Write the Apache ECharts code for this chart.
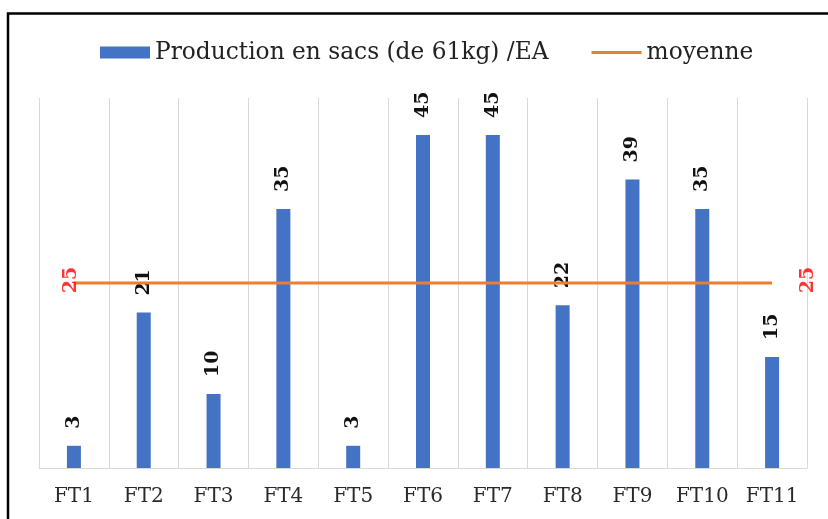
<!DOCTYPE html>
<html>
<head>
<meta charset="utf-8">
<script src="https://cdn.jsdelivr.net/npm/echarts@6/dist/echarts.min.js"></script>
<style>
html,body{margin:0;padding:0;background:#fff;}
#c{width:828px;height:519px;}
</style>
</head>
<body>
<div id="c"></div>
<script>
const categories = ['FT1','FT2','FT3','FT4','FT5','FT6','FT7','FT8','FT9','FT10','FT11'];
const production = [3,21,10,35,3,45,45,22,39,35,15];
const moyenne = [25,25,25,25,25,25,25,25,25,25,25];
const productionName = 'Production en sacs (de 61kg) /EA';
const moyenneName = 'moyenne';

const serif = '"DejaVu Serif", "Liberation Serif", serif';
const chart = echarts.init(document.getElementById('c'), null, {renderer:'canvas'});
chart.setOption({
  animation: false,
  backgroundColor: '#fff',
  graphic: [{
    type: 'rect', silent: true, z: 100,
    shape: {x: 8, y: 13.5, width: 840, height: 530},
    style: {fill: 'none', stroke: '#000', lineWidth: 2.5}
  }],
  legend: {
    data: [
      {name: productionName, icon: 'rect'},
      {name: moyenneName, icon: 'path://M0,0L50,0L50,3L0,3Z'}
    ],
    left: 95, top: 36,
    itemWidth: 50, itemHeight: 12, itemGap: 43,
    textStyle: {fontFamily: serif, fontSize: 23.3, color: '#222'}
  },
  grid: {left: 39, right: 21, top: 98, bottom: 51, containLabel: false},
  xAxis: {
    type: 'category', data: categories,
    axisLine: {show: true, lineStyle: {color: '#d9d9d9', width: 1}},
    axisTick: {show: false},
    splitLine: {show: true, lineStyle: {color: '#d9d9d9', width: 1}},
    axisLabel: {interval: 0, margin: 19, fontFamily: serif, fontSize: 20, color: '#2a2a2a'}
  },
  yAxis: {
    type: 'value', min: 0, max: 50,
    show: false, splitLine: {show: false}
  },
  series: [
    {
      name: productionName, type: 'bar', data: production, barWidth: 14,
      itemStyle: {color: '#4472C4'},
      label: {
        show: true, position: 'top', distance: 17, rotate: 90,
        align: 'left', verticalAlign: 'middle',
        fontFamily: serif, fontWeight: 'bold', fontSize: 19, color: '#111'
      }
    },
    {
      name: moyenneName, type: 'line', data: moyenne, symbol: 'none',
      lineStyle: {color: '#ED7D31', width: 3},
      itemStyle: {color: '#ED7D31'}
    },
    {
      name: 'moyenne_labels', type: 'scatter', symbolSize: 1,
      itemStyle: {color: 'rgba(0,0,0,0)'},
      silent: true,
      data: [
        {value: [categories[0], moyenne[0]], label: {offset: [3, -3]}},
        {value: [categories[10], moyenne[10]], label: {offset: [3, 36]}}
      ],
      label: {
        show: true, position: 'inside', rotate: 90,
        align: 'center', verticalAlign: 'middle',
        formatter: function (p) { return String(p.value[1]); },
        fontFamily: serif, fontWeight: 'bold', fontSize: 19, color: '#FF0000'
      },
      z: 5
    }
  ]
});
</script>
</body>
</html>
